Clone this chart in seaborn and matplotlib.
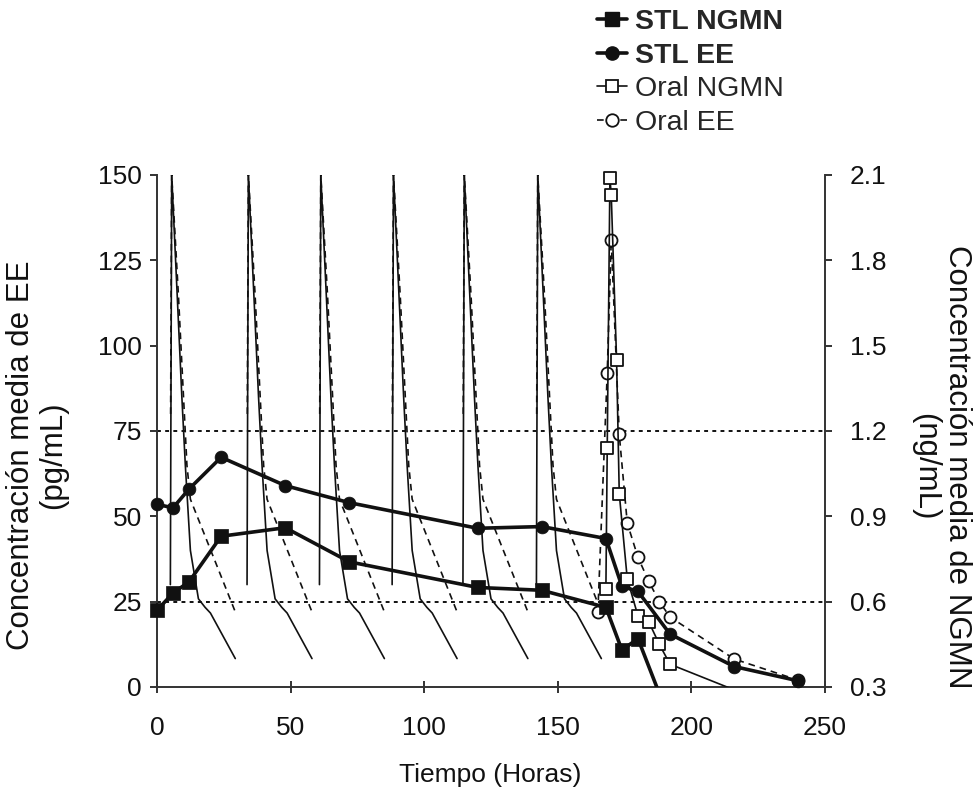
import matplotlib
matplotlib.use("Agg")
import matplotlib.pyplot as plt
import seaborn as sns
from matplotlib.lines import Line2D

# ---- Transdermal system (STL): mean concentrations ----
stl_ee_t = [0, 6, 12, 24, 48, 72, 120, 144, 168, 174, 180, 192, 216, 240]
stl_ee = [53.5, 52.5, 58.0, 67.3, 59.0, 54.0, 46.5, 47.0, 43.5, 29.5, 28.0, 15.5, 6.0, 1.8]   # pg/mL

stl_ngmn_t = [0, 6, 12, 24, 48, 72, 120, 144, 168, 174, 180, 192]
stl_ngmn = [0.57, 0.63, 0.67, 0.83, 0.86, 0.74, 0.65, 0.64, 0.58, 0.43, 0.47, 0.18]         # ng/mL

# ---- Oral contraceptive, last dose (day 7) ----
oral_ee_t = [165, 168.5, 170, 173, 176, 180, 184, 188, 192, 216, 240]
oral_ee = [22, 92, 131, 74, 48, 38, 31, 25, 20.5, 8.2, 2.0]                                    # pg/mL

oral_ngmn_t = [168, 168.5, 169.5, 170, 172, 173, 176, 180, 184, 188, 192, 216]
oral_ngmn = [0.645, 1.14, 2.09, 2.03, 1.45, 0.98, 0.68, 0.55, 0.53, 0.45, 0.38, 0.29]          # ng/mL

# ---- Oral profile of the previous daily doses (no sampling points) ----
dose_times = [5.0, 33.7, 60.8, 88.0, 114.5, 142.0]
pulse_dt_ngmn = [0, 0.5, 4.3, 5.6, 7.5, 10.5, 13.0, 15.0, 24.3]
pulse_ngmn = [0.66, 2.10, 1.32, 1.08, 0.78, 0.61, 0.58, 0.56, 0.40]
pulse_dt_ee = [0.1, 0.5, 3.0, 6.2, 7.5, 24.3]
pulse_ee = [80, 150, 115, 65, 55, 22]

ee_ticks = [0, 25, 50, 75, 100, 125, 150]
ngmn_ticks = [0.3, 0.6, 0.9, 1.2, 1.5, 1.8, 2.1]
time_ticks = [0, 50, 100, 150, 200, 250]
ref_levels = [25, 75]

sns.set_style("ticks")
plt.rcParams['font.family'] = ['Liberation Sans', 'DejaVu Sans']

INK = '#111111'
FS = 19
EE_DASH = (0, (4, 3))

fig = plt.figure(figsize=(9.76, 7.96), dpi=100)
ax = fig.add_axes([157 / 976, 109 / 796, 668 / 976, 512 / 796])
ax2 = ax.twinx()

ax.set_xlim(0, 250)
ax.set_ylim(0, 150)
ax2.set_ylim(0.3, 2.1)

# reference levels
for lvl in ref_levels:
    ax.axhline(lvl, color=INK, lw=1.4, ls=(0, (2, 2.2)), zorder=1)

# daily oral profiles (solid: NGMN, dashed: EE)
for d in dose_times:
    sns.lineplot(x=[d + t for t in pulse_dt_ngmn], y=pulse_ngmn, ax=ax2, color=INK,
                 lw=1.2, estimator=None, sort=False, legend=False)
    sns.lineplot(x=[d + t for t in pulse_dt_ee], y=pulse_ee, ax=ax, color=INK,
                 lw=1.2, ls=EE_DASH, estimator=None, sort=False, legend=False)

# oral, day 7
sns.lineplot(x=oral_ee_t, y=oral_ee, ax=ax, color=INK, lw=1.2, ls=EE_DASH,
             estimator=None, sort=False, legend=False)
sns.scatterplot(x=oral_ee_t, y=oral_ee, ax=ax, marker='o', s=75, facecolor='white',
                edgecolor=INK, linewidth=1.3, clip_on=False, zorder=6, legend=False)

sns.lineplot(x=oral_ngmn_t, y=oral_ngmn, ax=ax2, color=INK, lw=1.2,
             estimator=None, sort=False, legend=False)
ovis = [(t, v) for t, v in zip(oral_ngmn_t, oral_ngmn) if v >= 0.3]
sns.scatterplot(x=[p[0] for p in ovis], y=[p[1] for p in ovis], ax=ax2, marker='s', s=80,
                facecolor='white', edgecolor=INK, linewidth=1.3, clip_on=False, zorder=6,
                legend=False)

# transdermal system
sns.lineplot(x=stl_ee_t, y=stl_ee, ax=ax, color=INK, lw=2.6,
             estimator=None, sort=False, legend=False)
sns.scatterplot(x=stl_ee_t, y=stl_ee, ax=ax, marker='o', s=85, color=INK,
                edgecolor=INK, linewidth=0.5, clip_on=False, zorder=7, legend=False)

sns.lineplot(x=stl_ngmn_t, y=stl_ngmn, ax=ax2, color=INK, lw=2.6,
             estimator=None, sort=False, legend=False)
svis = [(t, v) for t, v in zip(stl_ngmn_t, stl_ngmn) if v >= 0.3]
sns.scatterplot(x=[p[0] for p in svis], y=[p[1] for p in svis], ax=ax2, marker='s', s=100,
                color=INK, edgecolor=INK, linewidth=0.5, clip_on=False, zorder=7, legend=False)

# axes styling
ax.set_xticks(time_ticks)
ax.set_yticks(ee_ticks)
ax2.set_yticks(ngmn_ticks)
ax2.set_yticklabels([f"{v:.1f}" for v in ngmn_ticks])
ax.set_xlabel("")
ax.set_ylabel("")
ax2.set_ylabel("")

for a in (ax, ax2):
    a.spines['top'].set_visible(False)
    for s in a.spines.values():
        s.set_color('#333333')
        s.set_linewidth(1.4)
ax2.spines['left'].set_visible(False)
ax2.spines['bottom'].set_visible(False)
ax.spines['right'].set_visible(False)

ax.tick_params(axis='x', direction='inout', length=8, width=1.2, pad=17,
               labelsize=FS, colors=INK)
ax.tick_params(axis='y', direction='out', length=5, width=1.2, pad=6,
               labelsize=FS, colors=INK)
ax2.tick_params(axis='y', direction='out', length=5, width=1.2, pad=13,
                labelsize=FS, colors=INK)

fig.text(37 / 976, 1 - 455 / 796, "Concentración media de EE\n(pg/mL)", rotation=90,
         ha='center', va='center', multialignment='center', fontsize=22.5, color=INK,
         linespacing=1.1)
fig.text(941 / 976, 1 - 467 / 796, "Concentración media de NGMN\n(ng/mL)", rotation=270,
         ha='center', va='center', multialignment='center', fontsize=22.5, color=INK,
         linespacing=1.1)
fig.text(490 / 976, 1 - 775 / 796, "Tiempo (Horas)", ha='center', va='center',
         fontsize=FS, color=INK)

# legend
handles = [
    Line2D([], [], color=INK, lw=2.6, marker='s', markersize=9.5, markerfacecolor=INK),
    Line2D([], [], color=INK, lw=2.6, marker='o', markersize=9.5, markerfacecolor=INK),
    Line2D([], [], color=INK, lw=1.2, marker='s', markersize=9,
           markerfacecolor='white', markeredgewidth=1.3),
    Line2D([], [], color=INK, lw=1.2, ls=EE_DASH, marker='o', markersize=9,
           markerfacecolor='white', markeredgewidth=1.3),
]
labels = ["STL NGMN", "STL EE", "Oral NGMN", "Oral EE"]
leg = fig.legend(handles, labels, loc='upper left', bbox_to_anchor=(597 / 976, 1 - 9 / 796),
                 frameon=False, fontsize=20.5, handlelength=1.05, handletextpad=0.3,
                 labelspacing=0.27, borderpad=0, borderaxespad=0)
for txt in leg.get_texts()[:2]:
    txt.set_fontweight('bold')

fig.savefig("out.png", dpi=100)
